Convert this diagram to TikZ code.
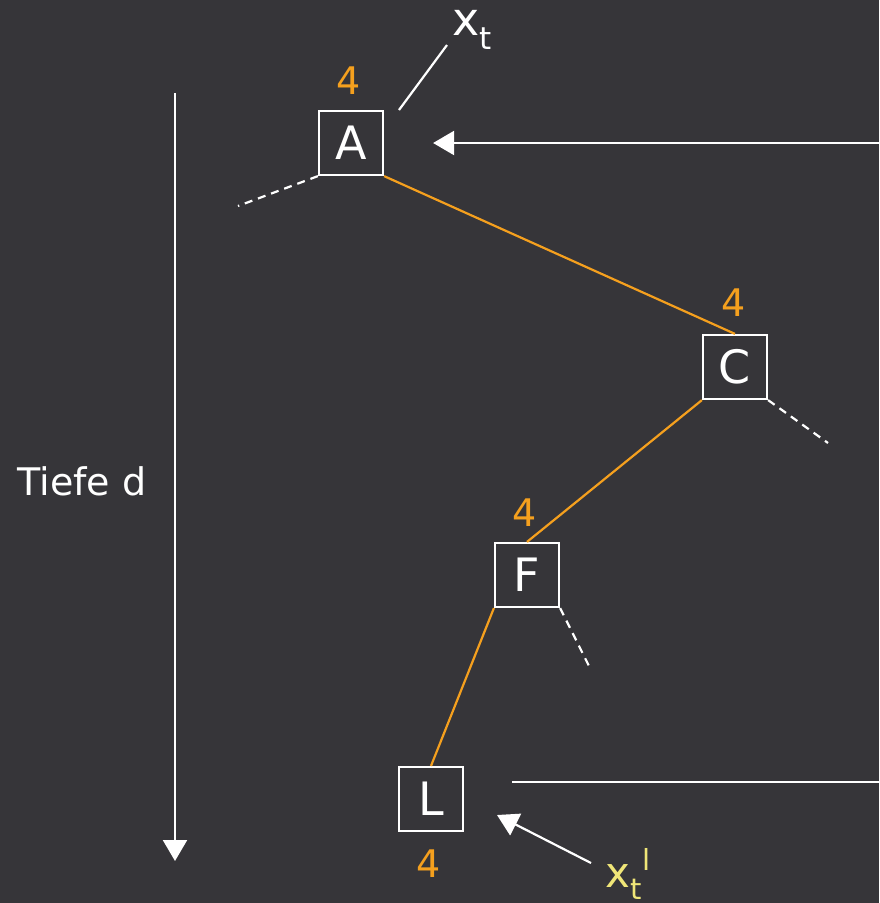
\documentclass[tikz,border=0pt]{standalone}
\usepackage{fontspec}
\setmainfont{DejaVu Sans}
\usepackage{tikz}
\usetikzlibrary{arrows.meta, positioning}

\definecolor{bgdark}{RGB}{54,53,57}
\definecolor{costorange}{RGB}{245,160,30}
\definecolor{leafyellow}{RGB}{240,230,120}

\begin{document}
\begin{tikzpicture}[
      x=1pt, y=-1pt,
      state/.style={rectangle, draw=white, line width=2.2pt, text=white,
                    minimum size=64pt, inner sep=0pt,
                    font=\fontsize{46}{46}\selectfont},
      cost/.style={text=costorange, inner sep=0pt,
                   font=\fontsize{38}{38}\selectfont},
      path/.style={costorange, line width=2.2pt},
      cut/.style={white, line width=2.2pt, dash pattern=on 8pt off 6pt},
      arrow/.style={-{Triangle[length=21pt,width=24pt]}, white, line width=2.2pt},
      every node/.style={font=\fontsize{38}{38}\selectfont}
    ]
        % background and fixed frame
        \useasboundingbox (0,0) rectangle (879,903);
        \fill[bgdark] (0,0) rectangle (879,903);

        % search path
        \node[state] (A) at (351,143) {A};
        \node[state] (C) at (735,367) {C};
        \node[state] (F) at (527,575) {F};
        \node[state] (L) at (431,799) {L};

        \node[cost] (cA) at (349,81) {4};
        \node[cost] (cC) at (734,303) {4};
        \node[cost] (cF) at (525,513) {4};
        \node[cost] (cL) at (429,864) {4};

        \draw[path] (A.south east) -- (C.north);
        \draw[path] (C.south west) -- (F.north);
        \draw[path] (F.south west) -- (L.north);

        % cut off branches
        \coordinate (dA) at (238,206);
        \coordinate (dC) at (828,443);
        \coordinate (dF) at (591,670);
        \draw[cut] (A.south west) -- (dA);
        \draw[cut] (C.south east) -- (dC);
        \draw[cut] (F.south east) -- (dF);

        % start and end states
        \node[text=white, inner sep=0pt, font=\fontsize{46}{46}\selectfont] (xt) at (472,30)
            {x\raisebox{-0.3em}{\fontsize{31}{31}\selectfont t}};
        \coordinate (xtfoot) at (399,110);
        \draw[white, line width=2.2pt] (447,45) -- (xtfoot);

        \node[text=leafyellow, inner sep=0pt, font=\fontsize{42}{42}\selectfont] (xl) at (628,874)
            {x\raisebox{-0.3em}{\fontsize{29}{29}\selectfont t}\raisebox{0.4em}{\fontsize{29}{29}\selectfont l}};
        \coordinate (xlfoot) at (591,863);
        \coordinate (xltip) at (497,815);
        \draw[arrow] (xlfoot) -- (xltip);

        % return from the right
        \coordinate (rin) at (879,143);
        \coordinate (rout) at (879,782);
        \draw[arrow] (rin) -- ([xshift=49pt]A.east);
        \draw[white, line width=2.2pt] ([xshift=48pt]L.east |- rout) -- (rout);

        % depth axis
        \coordinate (dtop) at (175,93);
        \coordinate (dbot) at (175,861);
        \draw[arrow] (dtop) -- (dbot);
        \node[text=white] (depth) at (82,481) {Tiefe d};
\end{tikzpicture}
\end{document}
